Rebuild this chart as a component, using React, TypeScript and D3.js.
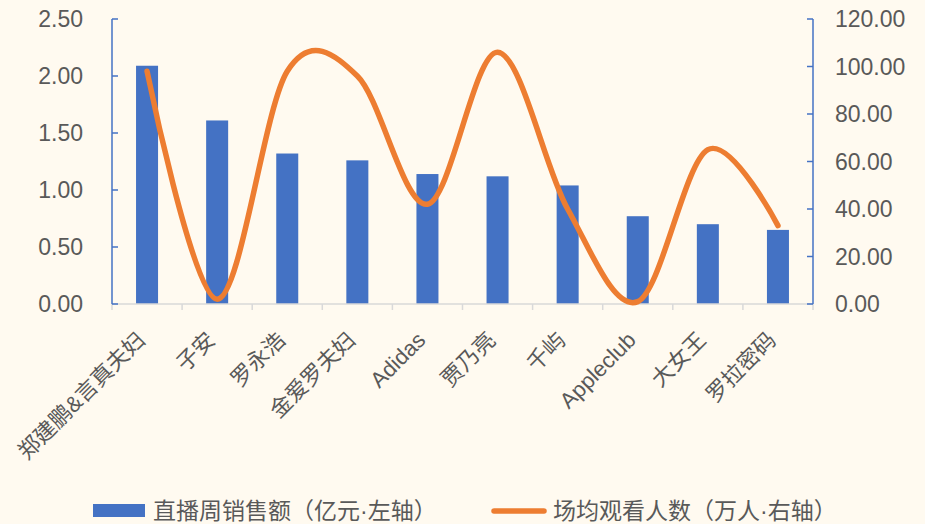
import React from "react";
import * as d3 from "d3";

const categories = ["郑建鹏&言真夫妇", "子安", "罗永浩", "金爱罗夫妇", "Adidas", "贾乃亮", "千屿", "Appleclub", "大女王", "罗拉密码"];
const salesValues = [2.09, 1.61, 1.32, 1.26, 1.14, 1.12, 1.04, 0.77, 0.70, 0.65];
const viewerValues = [98, 2, 98, 96, 42, 106, 40, 1, 65, 33];
const leftTicks = [0, 0.5, 1, 1.5, 2, 2.5];
const rightTicks = [0, 20, 40, 60, 80, 100, 120];
const legendLabels = ["直播周销售额（亿元·左轴）", "场均观看人数（万人·右轴）"];

const W = 925;
const H = 524;
const BLUE = "#4472C4";
const ORANGE = "#ED7D31";
const TEXT = "#595959";
const FONT = "'Liberation Sans', Arial, 'Noto Sans CJK SC', sans-serif";

export default function App() {
  const left = 112;
  const right = 813;
  const top = 19;
  const bottom = 304;

  const x = d3.scaleBand<string>().domain(categories).range([left, right]).paddingInner(0.686).paddingOuter(0.343);
  const step = x.step();
  const yL = d3.scaleLinear().domain([0, 2.5]).range([bottom, top]);
  const yR = d3.scaleLinear().domain([0, 120]).range([bottom, top]);

  const cx = (c: string) => (x(c) as number) + x.bandwidth() / 2;

  const line = d3
    .line<number>()
    .x((_, i) => cx(categories[i]))
    .y((d) => yR(d))
    .curve(d3.curveCardinal.tension(0));

  const boundaries = d3.range(categories.length + 1).map((i) => left + i * step);

  return (
    <svg width={W} height={H} style={{ position: "absolute", left: 0, top: 0, background: "#FFFAF0" }}>
      <rect x={0} y={0} width={W} height={H} fill="#FFFAF0" />
      {categories.map((c, i) => (
        <rect key={c} x={x(c)} y={yL(salesValues[i])} width={x.bandwidth()} height={bottom - yL(salesValues[i])} fill={BLUE} />
      ))}
      <line x1={left} x2={right} y1={bottom} y2={bottom} stroke="#D9D9D9" strokeWidth={1.5} />
      {boundaries.map((b, i) => (
        <line key={i} x1={b} x2={b} y1={bottom} y2={bottom + 6} stroke="#D9D9D9" strokeWidth={1.5} />
      ))}
      <line x1={left} x2={left} y1={top} y2={bottom} stroke={BLUE} strokeWidth={1.5} />
      {leftTicks.map((t) => (
        <g key={t}>
          <line x1={left} x2={left + 6} y1={yL(t)} y2={yL(t)} stroke={BLUE} strokeWidth={1.5} />
          <text x={83} y={yL(t)} dy="0.35em" textAnchor="end" fontSize={23} fill={TEXT} fontFamily={FONT}>
            {t.toFixed(2)}
          </text>
        </g>
      ))}
      <line x1={right} x2={right} y1={top} y2={bottom} stroke={BLUE} strokeWidth={1.5} />
      {rightTicks.map((t) => (
        <g key={t}>
          <line x1={right - 6} x2={right} y1={yR(t)} y2={yR(t)} stroke={BLUE} strokeWidth={1.5} />
          <text x={835} y={yR(t)} dy="0.35em" textAnchor="start" fontSize={23} fill={TEXT} fontFamily={FONT}>
            {t.toFixed(2)}
          </text>
        </g>
      ))}
      <path d={line(viewerValues) || ""} fill="none" stroke={ORANGE} strokeWidth={5.5} strokeLinecap="round" strokeLinejoin="round" />
      {categories.map((c) => (
        <text
          key={c}
          transform={`translate(${cx(c) - 6},${bottom + 32}) rotate(-45)`}
          textAnchor="end"
          dy="0.35em"
          fontSize={22}
          fill={TEXT}
          fontFamily={FONT}
        >
          {c}
        </text>
      ))}
      <rect x={93} y={504} width={52} height={13} fill={BLUE} />
      <text x={153} y={511} dy="0.35em" fontSize={23} fill={TEXT} fontFamily={FONT}>
        {legendLabels[0]}
      </text>
      <line x1={494} x2={544} y1={511} y2={511} stroke={ORANGE} strokeWidth={5.5} strokeLinecap="round" />
      <text x={553} y={511} dy="0.35em" fontSize={23} fill={TEXT} fontFamily={FONT}>
        {legendLabels[1]}
      </text>
    </svg>
  );
}
